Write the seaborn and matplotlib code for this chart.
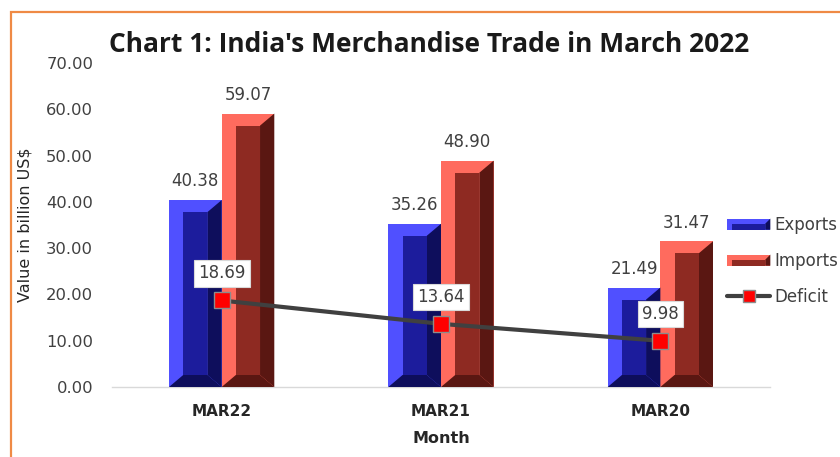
import matplotlib
matplotlib.use("Agg")
import matplotlib.pyplot as plt
from matplotlib.patches import Rectangle, Polygon, Patch
from matplotlib.lines import Line2D
from matplotlib.legend_handler import HandlerBase
import seaborn as sns
import pandas as pd

months = ["MAR22", "MAR21", "MAR20"]
exports = [40.38, 35.26, 21.49]
imports = [59.07, 48.90, 31.47]
deficit = [18.69, 13.64, 9.98]
series = ["Exports", "Imports"]

# light face, inner face, dark side
BLUE = ("#5050ff", "#1c1c9c", "#0e0e5c")
RED = ("#ff6b5e", "#8e2a22", "#5a1712")
TXT = "#404040"

df = pd.DataFrame({
    "Month": months * 2,
    "Value": exports + imports,
    "Series": ["Exports"] * 3 + ["Imports"] * 3,
})

sns.set_theme(style="white")
plt.rcParams["font.family"] = ["DejaVu Sans"]


class BevelHandler(HandlerBase):
    def __init__(self, shades):
        super().__init__()
        self.shades = shades

    def create_artists(self, legend, orig_handle, xdescent, ydescent, width, height, fontsize, trans):
        x0, y0 = -xdescent, -ydescent
        light, mid, dark = self.shades
        b = height * 0.45
        face = Rectangle((x0, y0), width, height, fc=light, ec="none", transform=trans)
        inner = Rectangle((x0 + b, y0), width - 2 * b, height - b, fc=mid, ec="none", transform=trans)
        side = Polygon([(x0 + width, y0), (x0 + width, y0 + height),
                        (x0 + width - b, y0 + height - b), (x0 + width - b, y0)],
                       closed=True, fc=dark, ec="none", transform=trans)
        return [face, inner, side]


fig = plt.figure(figsize=(8.4, 4.57), dpi=100)
ax = fig.add_axes([0.1333, 0.1532, 0.7834, 0.709])

sns.barplot(data=df, x="Month", y="Value", hue="Series", order=months, hue_order=series,
            palette=[BLUE[0], RED[0]], width=0.48, saturation=1, legend=False,
            linewidth=0, ax=ax)

# bevelled look on each bar
bx, by = 0.065, 2.6
for cont, shades in zip(ax.containers, [BLUE, RED]):
    for p in cont.patches:
        x, w, h = p.get_x(), p.get_width(), p.get_height()
        ax.add_patch(Polygon([(x + w, 0), (x + w, h), (x + w - bx, h - by), (x + w - bx, by)],
                             closed=True, fc=shades[2], ec="none", zorder=3))
        ax.add_patch(Polygon([(x, 0), (x + w, 0), (x + w - bx, by), (x + bx, by)],
                             closed=True, fc=shades[2], ec="none", zorder=3))
        ax.add_patch(Rectangle((x + bx, by), w - 2 * bx, h - 2 * by, fc=shades[1], ec="none", zorder=3))
    ax.bar_label(cont, labels=[f"{v:.2f}" for v in cont.datavalues], padding=7,
                 color=TXT, fontsize=12)

# deficit line
xs = list(range(len(months)))
ax.plot(xs, deficit, color="#404040", lw=3, zorder=5)
ax.plot(xs, deficit, ls="none", marker="s", ms=11, mfc="#ff0000", mec="#8c8c8c", mew=1, zorder=6)
for i, v in enumerate(deficit):
    ax.annotate(f"{v:.2f}", (i, v), xytext=(0, 19.5), textcoords="offset points",
                ha="center", va="center", color=TXT, fontsize=12, zorder=7,
                bbox=dict(boxstyle="square,pad=0.25", fc="white", ec="#d9d9d9", lw=0.8))

ax.set_xlim(-0.5, 2.5)
ax.set_ylim(0, 70)
ax.set_yticks(range(0, 71, 10))
ax.set_yticklabels([f"{t:.2f}" for t in range(0, 71, 10)])
ax.tick_params(axis="y", length=0, pad=13.5, labelsize=11.8, labelcolor=TXT)
ax.tick_params(axis="x", length=0, pad=12, labelsize=11, labelcolor="#262626")
for lab in ax.get_xticklabels():
    lab.set_fontweight("bold")
ax.set_xlabel("Month", fontsize=11.5, fontweight="bold", color="#262626", labelpad=9)
ax.set_ylabel("Value in billion US$", fontsize=11.5, color="#262626", labelpad=10)
for s in ["top", "right", "left"]:
    ax.spines[s].set_visible(False)
ax.spines["bottom"].set_color("#d9d9d9")
ax.spines["bottom"].set_linewidth(1)

fig.text(0.511, 1 - 45 / 457, "Chart 1: India's Merchandise Trade in March 2022",
         ha="center", va="center", fontsize=19, fontweight="bold", color="#1a1a1a",
         family=["Open Sans", "DejaVu Sans"])

handles = [Patch(label="Exports"), Patch(label="Imports"),
           Line2D([], [], color="#404040", lw=3, marker="s", ms=8, mfc="#ff0000", mec="#8c8c8c")]
fig.legend(handles, ["Exports", "Imports", "Deficit"], loc="upper left",
           bbox_to_anchor=(727 / 840, 1 - 216 / 457), frameon=False, fontsize=12,
           labelcolor=TXT, handlelength=2.6, handleheight=0.65, labelspacing=1.08,
           handletextpad=0.25, borderpad=0, borderaxespad=0,
           handler_map={handles[0]: BevelHandler(BLUE), handles[1]: BevelHandler(RED)})

# orange frame, right and bottom edges run off the picture
fig.add_artist(Rectangle((11 / 840, -0.2), 1.2, 1.2 - 12 / 457, transform=fig.transFigure,
                         fill=False, ec="#ef8a45", lw=1.6, clip_on=False))

fig.savefig("out.png", dpi=100)
